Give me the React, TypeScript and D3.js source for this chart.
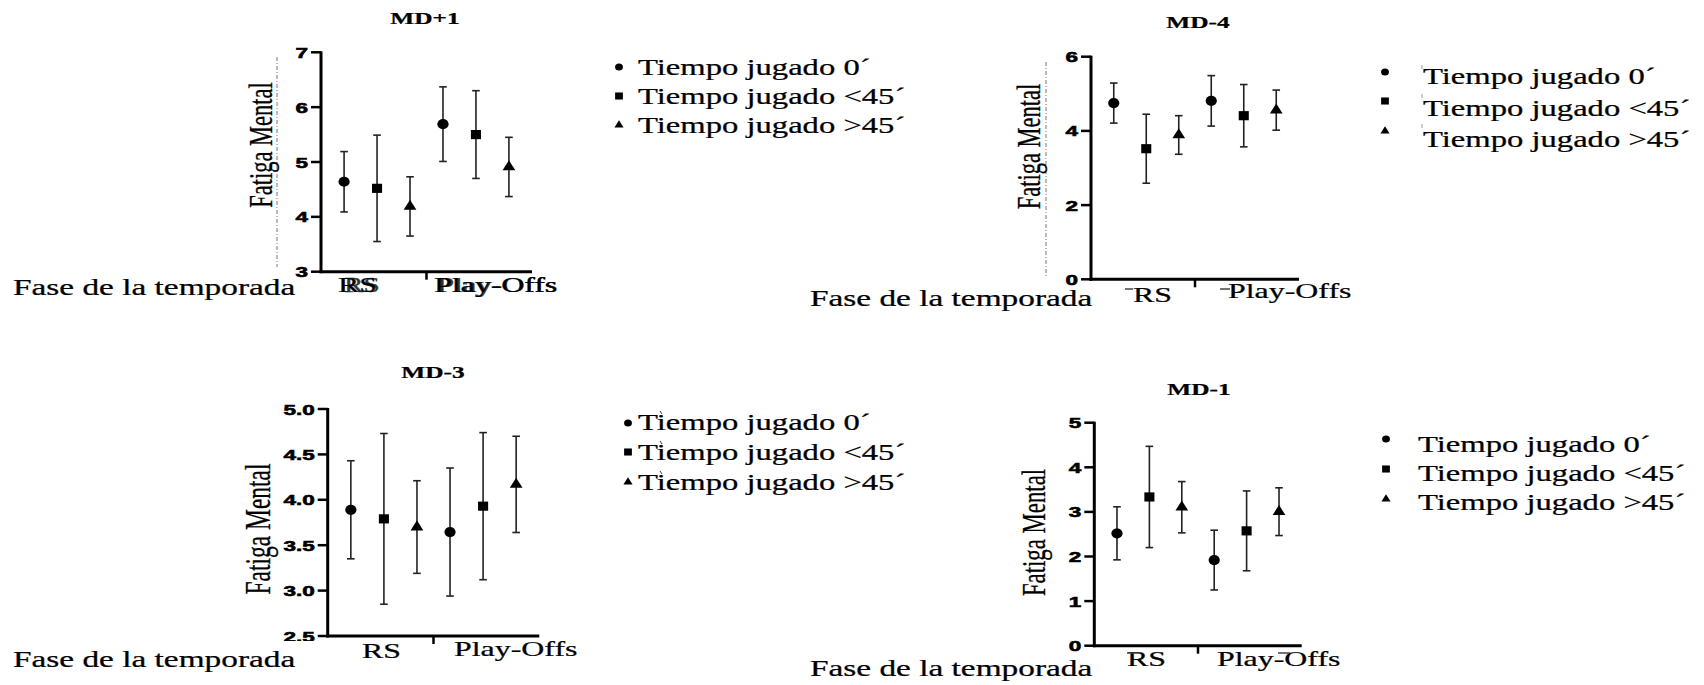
import React from "react";
import * as d3 from "d3";

// ---------------- DATA ----------------
const phases = ["RS", "Play-Offs"];
const seriesLabels = ["Tiempo jugado 0´", "Tiempo jugado <45´", "Tiempo jugado >45´"];
const seriesShapes = ["circle", "square", "triangle"];
const panelTitles = ["MD+1", "MD-4", "MD-3", "MD-1"];
const yAxisTitle = "Fatiga Mental";
const xAxisTitle = "Fase de la temporada";

// means / sd : [phase][series]
const mdPlus1Means = [[4.64, 4.52, 4.19], [5.69, 5.5, 4.91]];
const mdPlus1Sd = [[0.55, 0.97, 0.54], [0.68, 0.8, 0.54]];
const md4Means = [[4.75, 3.52, 3.89], [4.81, 4.41, 4.56]];
const md4Sd = [[0.54, 0.93, 0.52], [0.68, 0.84, 0.54]];
const md3Means = [[3.89, 3.79, 3.7], [3.645, 3.93, 4.17]];
const md3Sd = [[0.54, 0.94, 0.51], [0.705, 0.81, 0.53]];
const md1Means = [[2.52, 3.335, 3.105], [1.92, 2.575, 3.005]];
const md1Sd = [[0.595, 1.135, 0.575], [0.67, 0.895, 0.535]];

const mdPlus1Ticks = [3, 4, 5, 6, 7];
const md4Ticks = [0, 2, 4, 6];
const md3Ticks = [2.5, 3, 3.5, 4, 4.5, 5];
const md1Ticks = [0, 1, 2, 3, 4, 5];

// ---------------- LAYOUT ----------------
const SERIF = "'Liberation Serif', 'Times New Roman', Times, serif";
const SANS = "'Liberation Sans', Arial, Helvetica, sans-serif";
const SX = 1.45;

const panels = [
  {
    title: panelTitles[0], means: mdPlus1Means, sd: mdPlus1Sd, ticks: mdPlus1Ticks, fmt: d3.format("d"),
    left: 321, right: 532, top: 52.3, bottom: 271.7,
    titleX: 425, titleY: 24,
    yTitleX: 271.5, yTitleY: 145, yTitleFs: 22.5,
    xTitleX: 13, xTitleY: 295,
    cats: [{ x: 338, y: 292, dup: 6, dupSx: 0.92 }, { x: 434, y: 292, dup: 3, dupSx: 0.97 }],
    dash: { x: 277, y1: 57, y2: 267 },
    legend: { bx: 619, by: [67, 96, 125], tx: 638, ty: [75, 104, 133] },
  },
  {
    title: panelTitles[1], means: md4Means, sd: md4Sd, ticks: md4Ticks, fmt: d3.format("d"),
    left: 1091, right: 1299, top: 56.7, bottom: 279.3,
    titleX: 1198, titleY: 28,
    yTitleX: 1040, yTitleY: 146.5, yTitleFs: 22.5,
    xTitleX: 810, xTitleY: 306,
    cats: [{ x: 1133, y: 302, mark: [1125, 289, 1133, 289] }, { x: 1228, y: 298, mark: [1220, 289, 1230, 289] }],
    dash: { x: 1046, y1: 62, y2: 277 },
    legend: { bx: 1385, by: [72, 101, 131], tx: 1423, ty: [84, 116, 147], marks: true },
  },
  {
    title: panelTitles[2], means: md3Means, sd: md3Sd, ticks: md3Ticks, fmt: d3.format(".1f"),
    left: 327.7, right: 539.3, top: 409, bottom: 636,
    titleX: 433, titleY: 378,
    yTitleX: 270, yTitleY: 529, yTitleFs: 23.5,
    xTitleX: 13, xTitleY: 667,
    cats: [{ x: 362, y: 658 }, { x: 454, y: 656 }],
    clipTicks: 641,
    legend: { bx: 628, by: [423, 452, 482], tx: 638, ty: [430, 460, 490], accents: true },
  },
  {
    title: panelTitles[3], means: md1Means, sd: md1Sd, ticks: md1Ticks, fmt: d3.format("d"),
    left: 1094.3, right: 1301.7, top: 422.7, bottom: 645.7,
    titleX: 1199, titleY: 395,
    yTitleX: 1045, yTitleY: 532.5, yTitleFs: 22.8,
    xTitleX: 810, xTitleY: 676,
    cats: [{ x: 1127, y: 666, mark: [1127, 653, 1140, 653] }, { x: 1217, y: 666, mark: [1278, 653, 1290, 653] }],
    legend: { bx: 1386, by: [439, 469, 499], tx: 1418, ty: [452, 481, 510] },
  },
];

function SText(props: any) {
  const { x, y, sx = SX, fs, anchor = "start", weight = "normal", family = SERIF, children, fill = "#000", opacity = 1 } = props;
  return (
    <g transform={`translate(${x},${y}) scale(${sx},1)`} opacity={opacity}>
      <text x={0} y={0} fontSize={fs} textAnchor={anchor} fontWeight={weight} fontFamily={family} fill={fill}
        stroke={fill} strokeWidth={0.25}>
        {children}
      </text>
    </g>
  );
}

const symbolTypes: any = { circle: d3.symbolCircle, square: d3.symbolSquare, triangle: d3.symbolTriangle };
const markerSizes: any = { circle: 82, square: 84, triangle: 58 };
const legendSizes: any = { circle: 40, square: 50, triangle: 30 };

function Marker({ shape, x, y, size }: any) {
  const path = d3.symbol().type(symbolTypes[shape]).size(size)() as string;
  return <path d={path} transform={`translate(${x},${y}) scale(1.1,1)`} fill="#000" />;
}

function Panel({ p, idx }: any) {
  const keys = phases.flatMap((ph) => seriesLabels.map((s) => ph + "|" + s));
  const x = d3.scalePoint<string>().domain(keys).range([p.left, p.right]).padding(0.7);
  const yDom = d3.extent(p.ticks) as [number, number];
  const y = d3.scaleLinear().domain(yDom).range([p.bottom, p.top]);
  const midX = ((x(keys[2]) as number) + (x(keys[3]) as number)) / 2;
  const clipId = `clip${idx}`;

  return (
    <g>
      {p.clipTicks && (
        <defs>
          <clipPath id={clipId}>
            <rect x={0} y={0} width={1704} height={p.clipTicks} />
          </clipPath>
        </defs>
      )}
      {/* title */}
      <SText x={p.titleX} y={p.titleY} fs={17.5} anchor="middle" weight="bold">{p.title}</SText>

      {/* dashed guide */}
      {p.dash && (
        <line x1={p.dash.x} x2={p.dash.x} y1={p.dash.y1} y2={p.dash.y2} stroke="#777" strokeWidth={1} strokeDasharray="4,2,1,2" />
      )}

      {/* y axis title */}
      <g transform={`translate(${p.yTitleX},${p.yTitleY}) scale(1.5,1) rotate(-90)`}>
        <text textAnchor="middle" fontSize={p.yTitleFs} fontFamily={SERIF} fill="#000" stroke="#000" strokeWidth={0.2}>{yAxisTitle}</text>
      </g>

      {/* error bars & markers */}
      {phases.map((ph, pi) =>
        seriesLabels.map((s, si) => {
          const cx = x(ph + "|" + s) as number;
          const m = p.means[pi][si];
          const e = p.sd[pi][si];
          const y1 = y(m + e);
          const y2 = y(m - e);
          return (
            <g key={ph + s}>
              <line x1={cx} x2={cx} y1={y1} y2={y2} stroke="#222" strokeWidth={1.6} />
              <line x1={cx - 3.8} x2={cx + 3.8} y1={y1} y2={y1} stroke="#222" strokeWidth={1.6} />
              <line x1={cx - 3.8} x2={cx + 3.8} y1={y2} y2={y2} stroke="#222" strokeWidth={1.6} />
              <Marker shape={seriesShapes[si]} x={cx} y={y(m)} size={markerSizes[seriesShapes[si]]} />
            </g>
          );
        })
      )}

      {/* axes */}
      <line x1={p.left} x2={p.left} y1={p.top - 1} y2={p.bottom + 1.5} stroke="#000" strokeWidth={3} />
      <line x1={p.left - 1.5} x2={p.right} y1={p.bottom} y2={p.bottom} stroke="#000" strokeWidth={3} />
      <line x1={midX} x2={midX} y1={p.bottom} y2={p.bottom + 8} stroke="#000" strokeWidth={2.5} />
      <g clipPath={p.clipTicks ? `url(#${clipId})` : undefined}>
        {p.ticks.map((t: number) => (
          <g key={t}>
            <line x1={p.left - 10} x2={p.left} y1={y(t)} y2={y(t)} stroke="#000" strokeWidth={2.5} />
            <g transform={`translate(${p.left - 13},${y(t) + 5.5}) scale(1.5,1)`}>
              <text textAnchor="end" fontSize={15} fontWeight="bold" fontFamily={SANS} fill="#000" stroke="#000" strokeWidth={0.6}>{p.fmt(t)}</text>
            </g>
          </g>
        ))}
      </g>

      {/* category labels */}
      {phases.map((ph, pi) => {
        const c = p.cats[pi];
        return (
          <g key={ph}>
            <SText x={c.x} y={c.y} fs={22}>{ph}</SText>
            {c.dup && <SText x={c.x + c.dup} y={c.y} fs={22} sx={SX * c.dupSx} opacity={0.8}>{ph}</SText>}
            {c.mark && <line x1={c.mark[0]} y1={c.mark[1]} x2={c.mark[2]} y2={c.mark[3]} stroke="#444" strokeWidth={1.5} />}
          </g>
        );
      })}

      {/* x axis title */}
      <SText x={p.xTitleX} y={p.xTitleY} fs={23}>{xAxisTitle}</SText>

      {/* legend */}
      {seriesLabels.map((s, si) => (
        <g key={s}>
          <Marker shape={seriesShapes[si]} x={p.legend.bx} y={p.legend.by[si]} size={legendSizes[seriesShapes[si]]} />
          <SText x={p.legend.tx} y={p.legend.ty[si]} fs={22.5}>{s}</SText>
          {p.legend.marks && (
            <line x1={p.legend.tx - 1} x2={p.legend.tx - 1} y1={p.legend.by[si] - 7} y2={p.legend.by[si] - 3} stroke="#999" strokeWidth={1} />
          )}
          {p.legend.accents && (
            <line x1={p.legend.tx + 22} x2={p.legend.tx + 24} y1={p.legend.ty[si] - 19} y2={p.legend.ty[si] - 16} stroke="#333" strokeWidth={1} />
          )}
        </g>
      ))}
    </g>
  );
}

export default function App() {
  return (
    <svg
      width={1704}
      height={685}
      viewBox="0 0 1704 685"
      style={{ position: "absolute", left: 0, top: 0, background: "#fff" }}
    >
      <rect width={1704} height={685} fill="#fff" />
      {panels.map((p, i) => (
        <Panel key={i} p={p} idx={i} />
      ))}
    </svg>
  );
}
